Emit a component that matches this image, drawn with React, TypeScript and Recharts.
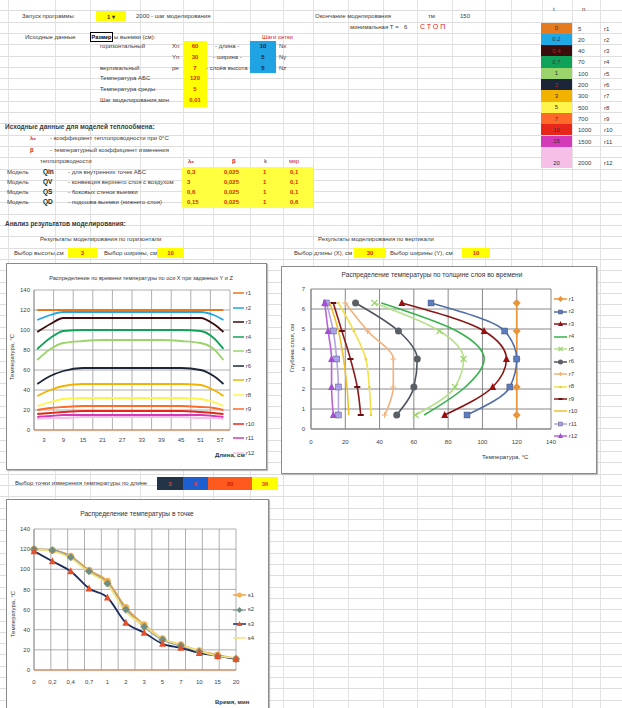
import React from 'react';
import { LineChart, Line, ScatterChart, Scatter, XAxis, YAxis, ZAxis, CartesianGrid } from 'recharts';

// ---------- shared ----------
const layerNames = ['r1', 'r2', 'r3', 'r4', 'r5', 'r6', 'r7', 'r8', 'r9', 'r10', 'r11', 'r12'];
const layerColors = ['#e67a1e', '#1ea8e6', '#3a0c0c', '#0fa35a', '#9ad46a', '#1c2638', '#f2b300', '#fff44a', '#ff6a2a', '#e8261a', '#d23ab8', '#f6bfe8'];
const times = ['0', '0,2', '0,4', '0,7', '1', '2', '3', '5', '7', '10', '15', '20'];
const stepNumbers = [5, 20, 40, 70, 100, 200, 300, 500, 700, 1000, 1500, 2000];
const tempTicks = [0, 20, 40, 60, 80, 100, 120, 140];

// ---------- chart 1: temperature along length ----------
const lengthPos = [1, 5, 9, 15, 21, 27, 33, 39, 45, 51, 55, 58];
const lengthTicks = [3, 9, 15, 21, 27, 33, 39, 45, 51, 57];
const lengthGrid = [0, 6, 12, 18, 24, 30, 36, 42, 48, 54, 60];
const r1 = [120, 120, 120, 120, 120, 120, 120, 120, 120, 120, 120, 120];
const r2 = [110, 115, 118, 118, 118, 118, 118, 118, 118, 118, 115, 110];
const r3 = [98, 106, 112, 112, 112, 112, 112, 112, 112, 112, 106, 98];
const r4 = [81, 92, 99, 100, 100, 100, 100, 100, 100, 99, 92, 81];
const r5 = [70, 81, 87, 89, 90, 90, 90, 90, 89, 87, 81, 70];
const r6 = [46, 54, 59, 62, 62, 62, 62, 62, 62, 60, 54, 46];
const r7 = [34, 40, 44, 46, 46, 46, 46, 46, 46, 45, 40, 34];
const r8 = [24, 28, 31, 32, 32, 32, 32, 32, 32, 31, 28, 24];
const r9 = [20, 22, 23, 24, 24, 24, 24, 24, 24, 23, 22, 20];
const r10 = [16, 17, 18, 19, 19, 19, 19, 19, 19, 18, 17, 16];
const r11 = [13, 14, 15, 15, 15, 15, 15, 15, 15, 15, 14, 13];
const r12 = [11, 12, 12, 13, 13, 13, 13, 13, 13, 12, 12, 11];
const lengthSeries = [r1, r2, r3, r4, r5, r6, r7, r8, r9, r10, r11, r12];

// ---------- chart 2: temperature across depth ----------
const depths = [0.7, 2.1, 3.5, 4.9, 6.3];
const depthTicks = [0, 1, 2, 3, 4, 5, 6, 7];
const d1 = [120, 120, 120, 120, 120];
const d2 = [91, 116, 120, 113, 70];
const d3 = [78, 106, 114, 101, 53];
const d4 = [66, 90, 101, 85, 41];
const d5 = [61, 84, 89, 75, 37];
const d6 = [50, 60, 62, 51, 26];
const d7 = [43, 48, 48, 33, 20];
const d8 = [35, 34, 32, 25, 16];
const d9 = [29, 27, 23, 18, 13];
const d10 = [22, 21, 19, 16, 11];
const d11 = [16, 16, 15, 13, 9];
const d12 = [13, 12, 12, 10, 8];
const depthSeries = [d1, d2, d3, d4, d5, d6, d7, d8, d9, d10, d11, d12];
const depthColors = ['#e8953a', '#4f6fa8', '#8a1414', '#35b24a', '#b6e08c', '#4e5560', '#f2b27a', '#f4e04a', '#8c1c1c', '#f0c030', '#b4a4e6', '#b862d8'];
const depthMarkers = ['diamond', 'square', 'triangle', 'none', 'cross', 'circle', 'plus', 'dot', 'dash', 'none', 'square', 'triangle'];
const depthMarkerFill = ['#e8953a', '#5c7cc0', '#9a1010', '#35b24a', '#9ad46a', '#5a5f66', '#f2b27a', '#e6d040', '#6a1010', '#f0c030', '#a8a0e8', '#a050d0'];

// ---------- chart 3: temperature at a point ----------
const s1 = [120, 119, 113, 99, 88, 62, 45, 31, 25, 19, 15, 11];
const s2 = [120, 119, 112, 98, 86, 60, 43, 30, 24, 18, 14, 11];
const s3 = [118, 108, 98, 81, 72, 47, 37, 26, 22, 17, 14, 11];
const s4 = [120, 118, 111, 97, 85, 58, 44, 31, 25, 19, 14, 12];
const pointNames = ['s1', 's2', 's3', 's4'];
const pointSeries = [s1, s2, s3, s4];
const pointColors = ['#f0a040', '#8aa0a8', '#1f2d5c', '#f4e27a'];
const pointMarkers = ['circle', 'diamond', 'triangle', 'none'];
const pointMarkerFill = ['#f5b050', '#6f9080', '#e4502a', '#f4e27a'];

// ---------- spreadsheet ----------
const modelCodes = ['Qin', 'QV', 'QS', 'QD'];
const modelDesc = ['- для внутренних точек АБС', '- конвекция верхнего слоя с воздухом', '- боковых стенок выемки', '- подошва выемки (нижнего слоя)'];
const modelLambda = ['0,3', '3', '0,6', '0,15'];
const modelBeta = ['0,025', '0,025', '0,025', '0,025'];
const modelK = ['1', '1', '1', '1'];
const modelMkr = ['0,1', '0,1', '0,1', '0,6'];
const sizeValues = ['60', '30', '7', '120', '5', '0,01'];
const gridSteps = ['10', '5', '5'];
const sheetCols = [8, 55, 90, 140, 183, 213, 250, 283, 313, 348, 383, 417, 452, 485, 511, 542, 572, 600];

const lengthRows = lengthPos.map((x, i) => {
  const row: any = { x };
  layerNames.forEach((n, k) => { row[n] = lengthSeries[k][i]; });
  return row;
});
const timeRows = times.map((t, i) => {
  const row: any = { t };
  pointNames.forEach((n, k) => { row[n] = pointSeries[k][i]; });
  return row;
});

const tickStyle = { fontSize: 6, fill: '#444' };

function Marker({ cx, cy, shape, fill, size = 5 }: any) {
  if (cx == null || cy == null || shape === 'none') return <g />;
  const h = size / 2;
  switch (shape) {
    case 'circle':
      return <circle cx={cx} cy={cy} r={h + 0.5} fill={fill} />;
    case 'square':
      return <rect x={cx - h} y={cy - h} width={size} height={size} fill={fill} stroke="#445" strokeWidth={0.4} />;
    case 'triangle':
      return <path d={`M${cx},${cy - h - 1} L${cx + h + 0.5},${cy + h} L${cx - h - 0.5},${cy + h} Z`} fill={fill} />;
    case 'diamond':
      return <path d={`M${cx},${cy - h - 1} L${cx + h + 1},${cy} L${cx},${cy + h + 1} L${cx - h - 1},${cy} Z`} fill={fill} />;
    case 'cross':
      return <path d={`M${cx - h},${cy - h} L${cx + h},${cy + h} M${cx + h},${cy - h} L${cx - h},${cy + h}`} stroke={fill} strokeWidth={1.2} />;
    case 'plus':
      return <path d={`M${cx - h},${cy} L${cx + h},${cy} M${cx},${cy - h} L${cx},${cy + h}`} stroke={fill} strokeWidth={1.2} />;
    case 'dash':
      return <rect x={cx - h} y={cy - 1} width={size} height={2} fill={fill} />;
    case 'dot':
      return <circle cx={cx} cy={cy} r={1.3} fill={fill} />;
    default:
      return <g />;
  }
}

function T({ x, y, c = '#3a3a3a', s = 6, b = false, children, ls }: any) {
  return (
    <div style={{ position: 'absolute', left: x, top: y - 4, fontSize: s, lineHeight: '8px', color: c, fontWeight: b ? 700 : 400, whiteSpace: 'nowrap', letterSpacing: ls }}>
      {children}
    </div>
  );
}

function Box({ x, y, w, h, bg, c = '#d03000', s = 6, b = true, children, style }: any) {
  return (
    <div style={{ position: 'absolute', left: x, top: y, width: w, height: h, background: bg, color: c, fontSize: s, fontWeight: b ? 700 : 400, display: 'flex', alignItems: 'center', justifyContent: 'center', ...style }}>
      {children}
    </div>
  );
}

function LegendIcon({ color, shape, fill }: any) {
  return (
    <svg width={13} height={8} style={{ verticalAlign: 'middle' }}>
      <line x1={0} y1={4} x2={13} y2={4} stroke={color} strokeWidth={1.5} />
      <Marker cx={6.5} cy={4} shape={shape} fill={fill} size={4} />
    </svg>
  );
}

const chartBox: any = { position: 'absolute', background: '#fff', border: '1px solid #8a8a8a', boxShadow: '1px 1px 1px #bbb' };

export default function App() {
  return (
    <div style={{ position: 'absolute', left: 0, top: 0, width: 622, height: 708, overflow: 'hidden', fontFamily: '"Liberation Sans", Arial, sans-serif', background: '#fff', backgroundImage: 'repeating-linear-gradient(to bottom, transparent 0px, transparent 10.3px, #dedede 10.3px, #dedede 11.3px)' }}>
      {sheetCols.map((x) => (
        <div key={x} style={{ position: 'absolute', left: x, top: 0, width: 1, height: 708, background: '#e2e2e2' }} />
      ))}

      {/* header */}
      <T x={22} y={16}>Запуск программы</T>
      <Box x={96} y={11} w={30} h={10} bg="#ffff00" c="#333">1 ▾</Box>
      <T x={136} y={16}>2000  - шаг моделирования</T>
      <T x={25} y={37}>Исходные данные</T>
      <Box x={90} y={32} w={23} h={10} bg="#fff" c="#000" s={5.5} style={{ border: '1.5px solid #000', boxSizing: 'border-box' }}>Размер</Box>
      <T x={114} y={37}>ы выемки (см):</T>
      <T x={262} y={37} c="#e02020">Шаги сетки</T>
      <T x={100} y={46}>горизонтальный</T>
      <T x={100} y={68}>вертикальный</T>
      <T x={100} y={78}>Температура АБС</T>
      <T x={100} y={89}>Температура среды</T>
      <T x={100} y={100}>Шаг моделирования,мин</T>
      <T x={172} y={46}>Xn</T>
      <T x={172} y={57}>Yn</T>
      <T x={172} y={68}>pн</T>
      <div style={{ position: 'absolute', left: 183, top: 41, width: 24, height: 66, background: '#ffff00' }} />
      {sizeValues.map((v, i) => (
        <Box key={i} x={183} y={[41, 52, 63, 73, 84, 95][i]} w={24} h={10}>{v}</Box>
      ))}
      <T x={215} y={46}>- длина -</T>
      <T x={213} y={57}>- ширина -</T>
      <T x={206} y={68}>- слоёв высота -</T>
      <div style={{ position: 'absolute', left: 250, top: 41, width: 26, height: 32, background: '#1fa3e3' }} />
      {gridSteps.map((v, i) => (
        <Box key={i} x={250} y={41 + 11 * i} w={26} h={10} c="#222">{v}</Box>
      ))}
      <T x={279} y={46}>Nx</T>
      <T x={279} y={57}>Ny</T>
      <T x={279} y={68}>Nz</T>

      <T x={315} y={16}>Окончание моделирования</T>
      <T x={428} y={16}>тм</T>
      <T x={460} y={16}>150</T>
      <T x={350} y={27}>минимальная Т =</T>
      <T x={404} y={27}>6</T>
      <T x={420} y={27} c="#e02020" s={7} ls={2}>СТОП</T>
      <T x={553} y={9}>t</T>
      <T x={582} y={9}>n</T>
      {times.map((t, i) => {
        const last = i === times.length - 1;
        const y = last ? 147 : 22.5 + 11.3 * i;
        const h = last ? 21 : 11.3;
        return (
          <React.Fragment key={t}>
            <Box x={541} y={y} w={31} h={h} bg={layerColors[i]} c={i === 2 || i === 5 ? '#c02020' : '#333'} b={false} style={last ? { alignItems: 'flex-end', paddingBottom: 2, boxSizing: 'border-box' } : undefined}>{t}</Box>
            <T x={578} y={last ? 163 : y + 6}>{stepNumbers[i]}</T>
            <T x={604} y={last ? 163 : y + 6}>{layerNames[i]}</T>
          </React.Fragment>
        );
      })}

      {/* model parameters */}
      <T x={5} y={127} b s={6.5}>Исходные данные для моделей теплообмена:</T>
      <T x={30} y={138} c="#d02020" b>λ₀</T>
      <T x={50} y={138}>- коэффициент теплопроводности при 0°С</T>
      <T x={30} y={150} c="#d02020" b>β</T>
      <T x={50} y={150}>- температурный коэффициент изменения</T>
      <T x={40} y={161}>теплопроводности</T>
      <T x={188} y={161} c="#d02020" b>λ₀</T>
      <T x={232} y={161} c="#d02020" b>β</T>
      <T x={264} y={161}>k</T>
      <T x={289} y={161} c="#d02020">мкр</T>
      <div style={{ position: 'absolute', left: 182, top: 167, width: 131, height: 41, background: '#ffff40' }} />
      {modelCodes.map((code, i) => {
        const y = 172 + 10 * i;
        return (
          <React.Fragment key={code}>
            <T x={7} y={y}>Модель</T>
            <T x={43} y={y} b s={6.5} c="#222">{code}</T>
            <T x={68} y={y}>{modelDesc[i]}</T>
            <T x={187} y={y} c="#d03000" b>{modelLambda[i]}</T>
            <T x={224} y={y} c="#d03000" b>{modelBeta[i]}</T>
            <T x={263} y={y} c="#d03000" b>{modelK[i]}</T>
            <T x={290} y={y} c="#d03000" b>{modelMkr[i]}</T>
          </React.Fragment>
        );
      })}

      <T x={5} y={224} b s={6.5}>Анализ результатов моделирования:</T>
      <T x={40} y={239}>Результаты моделирования по горизонтали</T>
      <T x={318} y={239}>Результаты моделирования по вертикали</T>
      <T x={14} y={253}>Выбор высоты,см</T>
      <Box x={68} y={248} w={29} h={10} bg="#ffff00">3</Box>
      <T x={104} y={253}>Выбор ширины, см</T>
      <Box x={157} y={248} w={27} h={10} bg="#ffff00">10</Box>
      <T x={294} y={253}>Выбор длины (X), см</T>
      <Box x={354} y={248} w={32} h={10} bg="#ffff00">30</Box>
      <T x={390} y={253}>Выбор ширины (Y), см</T>
      <Box x={462} y={248} w={28} h={10} bg="#ffff00">10</Box>

      <T x={15} y={483}>Выбор точки измерения температуры по длине</T>
      <Box x={157} y={477} w={26} h={13} bg="#243447" c="#e04040">3</Box>
      <Box x={183} y={477} w={25} h={13} bg="#1e5fd0" c="#e04040">6</Box>
      <Box x={208} y={477} w={44} h={13} bg="#ff5a1e" c="#c02000">20</Box>
      <Box x={252} y={477} w={26} h={13} bg="#ffff00" c="#e04000">36</Box>

      {/* chart 1 */}
      <div style={{ ...chartBox, left: 6, top: 263, width: 259, height: 205 }}>
        <LineChart width={259} height={205} data={lengthRows} margin={{ top: 26, right: 36, bottom: 13, left: 0 }}>
          <CartesianGrid stroke="#9a9a9a" strokeWidth={0.8} verticalValues={lengthGrid} />
          <XAxis type="number" dataKey="x" domain={[0, 60]} ticks={lengthTicks} interval={0} height={26} tick={tickStyle} tickLine={false} tickSize={6} axisLine={{ stroke: '#e8743b' }} />
          <YAxis domain={[0, 140]} ticks={tempTicks} interval={0} width={27} tick={tickStyle} tickLine={false} tickSize={2} axisLine={{ stroke: '#999' }} />
          {layerNames.map((n, k) => (
            <Line key={n} dataKey={n} type="monotone" stroke={layerColors[k]} strokeWidth={1.8} dot={false} isAnimationActive={false} />
          ))}
        </LineChart>
        <div style={{ position: 'absolute', left: 28, top: 11, width: 212, textAlign: 'center', fontSize: 5.6, color: '#333', whiteSpace: 'nowrap' }}>
          Распределение по времени температуры по оси X при заданных Y и Z
        </div>
        <div style={{ position: 'absolute', left: -30, top: 90, width: 70, textAlign: 'center', fontSize: 6, color: '#333', transform: 'rotate(-90deg)', whiteSpace: 'nowrap' }}>
          Температура, °С
        </div>
        <div style={{ position: 'absolute', left: 208, top: 188, fontSize: 6, fontWeight: 700, color: '#333' }}>Длина, см</div>
        {layerNames.map((n, k) => (
          <div key={n} style={{ position: 'absolute', left: 226, top: 25 + 14.5 * k, fontSize: 6, color: '#444', lineHeight: '8px', whiteSpace: 'nowrap' }}>
            <svg width={11} height={8} style={{ verticalAlign: 'middle' }}><line x1={0} y1={4} x2={11} y2={4} stroke={layerColors[k]} strokeWidth={1.5} /></svg>
            {' '}{n}
          </div>
        ))}
      </div>

      {/* chart 2 */}
      <div style={{ ...chartBox, left: 281, top: 266, width: 314, height: 206 }}>
        <ScatterChart width={314} height={206} margin={{ top: 22, right: 45, bottom: 18, left: 0 }}>
          <CartesianGrid stroke="#6a6a6a" strokeWidth={0.8} />
          <XAxis type="number" dataKey="t" domain={[0, 140]} ticks={tempTicks} interval={0} height={26} tick={tickStyle} tickLine={false} tickSize={9} axisLine={{ stroke: '#888' }} />
          <YAxis type="number" dataKey="d" domain={[0, 7]} ticks={depthTicks} interval={0} width={29} tick={tickStyle} tickLine={false} tickSize={4} axisLine={{ stroke: '#888' }} />
          <ZAxis range={[30, 30]} />
          {depthSeries.map((vals, k) => (
            <Scatter
              key={layerNames[k]}
              name={layerNames[k]}
              data={vals.map((t, i) => ({ t, d: depths[i] }))}
              fill={depthMarkerFill[k]}
              line={{ stroke: depthColors[k], strokeWidth: 1.6 }}
              lineJointType="monotoneY"
              shape={(p: any) => <Marker cx={p.cx} cy={p.cy} shape={depthMarkers[k]} fill={depthMarkerFill[k]} size={6} />}
              isAnimationActive={false}
            />
          ))}
        </ScatterChart>
        <div style={{ position: 'absolute', left: 30, top: 4, width: 240, textAlign: 'center', fontSize: 6.6, color: '#333', whiteSpace: 'nowrap' }}>
          Распределение температуры по толщине слоя во времени
        </div>
        <div style={{ position: 'absolute', left: -25, top: 78, width: 70, textAlign: 'center', fontSize: 6, color: '#333', transform: 'rotate(-90deg)', whiteSpace: 'nowrap' }}>
          Глубина слоя, см
        </div>
        <div style={{ position: 'absolute', left: 200, top: 187, fontSize: 6, color: '#333' }}>Температура, °С</div>
        {layerNames.map((n, k) => (
          <div key={n} style={{ position: 'absolute', left: 272, top: 28 + 12.45 * k, fontSize: 6, color: '#444', lineHeight: '8px', whiteSpace: 'nowrap' }}>
            <LegendIcon color={depthColors[k]} shape={depthMarkers[k]} fill={depthMarkerFill[k]} />
            {' '}{n}
          </div>
        ))}
      </div>

      {/* chart 3 */}
      <div style={{ ...chartBox, left: 6, top: 499, width: 261, height: 215 }}>
        <LineChart width={261} height={215} data={timeRows} margin={{ top: 29, right: 32, bottom: 19, left: 0 }}>
          <CartesianGrid
            stroke="#9a9a9a"
            strokeWidth={0.8}
            verticalCoordinatesGenerator={({ offset }: any) => times.concat('').map((_, i) => offset.left + (i * offset.width) / times.length)}
          />
          <XAxis dataKey="t" interval={0} height={26} tick={tickStyle} tickLine={false} tickSize={8} axisLine={{ stroke: '#e8743b' }} />
          <YAxis domain={[0, 140]} ticks={tempTicks} interval={0} width={27} tick={tickStyle} tickLine={false} tickSize={2} axisLine={{ stroke: '#999' }} />
          {pointNames.map((n, k) => (
            <Line
              key={n}
              dataKey={n}
              type="monotone"
              stroke={pointColors[k]}
              strokeWidth={1.8}
              dot={(p: any) => <Marker key={`${n}-${p.index}`} cx={p.cx} cy={p.cy} shape={pointMarkers[k]} fill={pointMarkerFill[k]} size={6} />}
              isAnimationActive={false}
            />
          ))}
        </LineChart>
        <div style={{ position: 'absolute', left: 30, top: 10, width: 200, textAlign: 'center', fontSize: 6.6, color: '#333', whiteSpace: 'nowrap' }}>
          Распределение температуры в точке
        </div>
        <div style={{ position: 'absolute', left: -29, top: 111, width: 70, textAlign: 'center', fontSize: 6, color: '#333', transform: 'rotate(-90deg)', whiteSpace: 'nowrap' }}>
          Температура, °С
        </div>
        <div style={{ position: 'absolute', left: 208, top: 199, fontSize: 6, fontWeight: 700, color: '#333' }}>Время, мин</div>
        {pointNames.map((n, k) => (
          <div key={n} style={{ position: 'absolute', left: 226, top: 91 + 14.3 * k, fontSize: 6, color: '#444', lineHeight: '8px', whiteSpace: 'nowrap' }}>
            <LegendIcon color={pointColors[k]} shape={pointMarkers[k]} fill={pointMarkerFill[k]} />
            {' '}{n}
          </div>
        ))}
      </div>
    </div>
  );
}
